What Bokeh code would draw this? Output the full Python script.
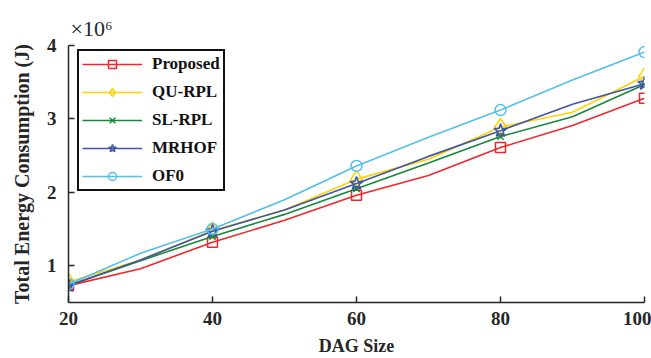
from bokeh.plotting import figure
from bokeh.models import Range1d, FixedTicker, Legend, Title
from bokeh.embed import file_html
from bokeh.resources import INLINE

# DAG size (all sample points) and marker positions
dag_size = [20, 30, 40, 50, 60, 70, 80, 90, 100]
# Total energy consumption, in units of 10^6 J
proposed = [0.73, 0.96, 1.32, 1.62, 1.96, 2.23, 2.61, 2.91, 3.28]
qu_rpl   = [0.78, 1.08, 1.48, 1.76, 2.18, 2.45, 2.89, 3.09, 3.58]
sl_rpl   = [0.73, 1.07, 1.40, 1.70, 2.05, 2.40, 2.76, 3.03, 3.47]
mrhof    = [0.73, 1.08, 1.47, 1.76, 2.12, 2.49, 2.84, 3.20, 3.48]
of0      = [0.75, 1.17, 1.50, 1.90, 2.36, 2.75, 3.12, 3.53, 3.91]

series_names = ["Proposed", "QU-RPL", "SL-RPL", "MRHOF", "OF0"]
x_ticks = [20, 40, 60, 80, 100]
y_ticks = [1, 2, 3, 4]

series = [proposed, qu_rpl, sl_rpl, mrhof, of0]
colors = ["#f2262b", "#ffd200", "#16883a", "#3f55a6", "#52bfec"]
markers = ["square", "diamond", "x", "star", "circle"]
sizes = [10, 17, 9, 14, 11]

FONT = "Liberation Serif"

p = figure(width=651, height=358, output_backend="svg", toolbar_location=None,
           x_range=Range1d(20, 100), y_range=Range1d(0.5, 4),
           min_border_left=68, min_border_right=7, min_border_top=45, min_border_bottom=54)
p.outline_line_color = None
p.xgrid.visible = False
p.ygrid.visible = False

items = []
for name, ys, c, m, s in zip(series_names, series, colors, markers, sizes):
    r1 = p.line(dag_size, ys, line_color=c, line_width=1.6)
    mx = [x for x in dag_size if x in x_ticks]
    my = [y for x, y in zip(dag_size, ys) if x in x_ticks]
    r2 = p.scatter(mx, my, marker=m, size=s, line_color=c, fill_color=None, line_width=1.5)
    items.append((name, [r1, r2]))

legend = Legend(items=items, location=(9, 111))
legend.border_line_color = "#111111"
legend.border_line_width = 2
legend.border_line_alpha = 1
legend.background_fill_alpha = 1
legend.label_text_font = FONT
legend.label_text_font_style = "bold"
legend.label_text_font_size = "17px"
legend.label_text_color = "#111111"
legend.glyph_width = 60
legend.glyph_height = 20
legend.label_height = 20
legend.label_standoff = 10
legend.spacing = 8
legend.padding = 3
legend.margin = 0
p.add_layout(legend)

for ax in (p.xaxis, p.yaxis):
    ax.axis_line_color = "#262626"
    ax.axis_line_width = 1.5
    ax.major_tick_line_color = "#262626"
    ax.major_tick_line_width = 1.5
    ax.major_tick_in = 6
    ax.major_tick_out = 0
    ax.minor_tick_line_color = None
    ax.major_label_text_font = FONT
    ax.major_label_text_font_style = "bold"
    ax.major_label_text_font_size = "19px"
    ax.major_label_text_line_height = 1.0
    ax.major_label_text_color = "#262626"
    ax.axis_label_text_font = FONT
    ax.axis_label_text_font_style = "bold"
    ax.axis_label_text_line_height = 1.0
    ax.axis_label_text_color = "#262626"

p.xaxis.ticker = FixedTicker(ticks=x_ticks)
p.yaxis.ticker = FixedTicker(ticks=y_ticks)
p.xaxis.major_label_standoff = 9
p.yaxis.major_label_standoff = 12
p.xaxis.axis_label = "DAG Size"
p.yaxis.axis_label = "Total Energy Consumption (J)"
p.xaxis.axis_label_text_font_size = "18px"
p.yaxis.axis_label_text_font_size = "20px"
p.xaxis.axis_label_standoff = 8
p.yaxis.axis_label_standoff = 11

# "×10^6" multiplier above the top-left corner of the plot area
mult = Title(text="×10⁶", align="left", offset=2, standoff=9,
             text_font=FONT, text_font_style="normal", text_font_size="22px",
             text_color="#262626")
p.add_layout(mult, "above")

open("out.html", "w").write(file_html(p, INLINE))
